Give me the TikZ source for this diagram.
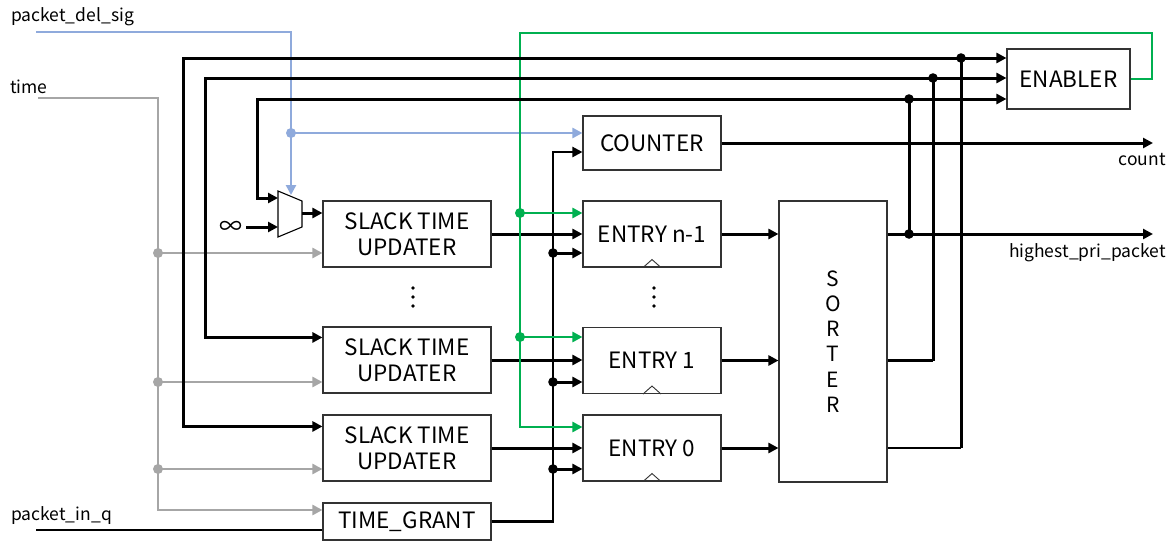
\documentclass[tikz,border=0pt]{standalone}
\usepackage{fontspec}
\setmainfont{Noto Sans CJK JP}
\usetikzlibrary{arrows.meta,calc}
\definecolor{delblue}{HTML}{8FAADC}
\definecolor{timegray}{HTML}{A6A6A6}
\definecolor{engreen}{HTML}{00B050}
\tikzset{
  blk/.style={line width=3pt, black},
  thn/.style={line width=2.2pt, black},
  bsig/.style={line width=2.6pt, delblue},
  gsig/.style={line width=2.6pt, timegray},
  esig/.style={line width=2.6pt, engreen},
  tip/.style={-{Triangle[length=10pt,width=10pt]}},
  box/.style={draw=black!80, line width=1.1pt, fill=white, align=center,
    font=\fontsize{22.5}{26.5}\selectfont, inner sep=0pt},
  lbl/.style={font=\fontsize{17.5}{19}\selectfont, inner sep=0pt},
}
\begin{document}
\begin{tikzpicture}[x=1pt,y=-1pt]
\useasboundingbox (0,0) rectangle (1174,541);

% ---------- blocks ----------
\node[box, minimum width=168pt, minimum height=66pt] (s2) at (407,234) {SLACK TIME\\UPDATER};
\node[box, minimum width=168pt, minimum height=66pt] (s1) at (407,360) {SLACK TIME\\UPDATER};
\node[box, minimum width=168pt, minimum height=66pt] (s0) at (407,448) {SLACK TIME\\UPDATER};
\node[box, minimum width=168pt, minimum height=37pt] (tg) at (407,521.5) {TIME\_GRANT};
\node[box, minimum width=138pt, minimum height=54pt] (ctr) at (652,143) {COUNTER};
\node[box, minimum width=138pt, minimum height=66pt] (e2) at (652,234) {ENTRY n-1};
\node[box, minimum width=138pt, minimum height=66pt] (e1) at (652,360.5) {ENTRY 1};
\node[box, minimum width=138pt, minimum height=66pt] (e0) at (652,448) {ENTRY 0};
\node[box, minimum width=108pt, minimum height=281pt, font=\fontsize{21}{25.2}\selectfont] (srt) at (833,341.5) {S\\O\\R\\T\\E\\R};
\node[box, minimum width=123pt, minimum height=60pt] (en) at (1068.5,79) {ENABLER};

% clock marks on the entries
\foreach \e in {e2,e1,e0}
  \draw[line width=0.9pt, black!80] ($(\e.south)+(-9,0)$) -- ($(\e.south)+(0,-8)$) -- ($(\e.south)+(9,0)$);

% vertical ellipses
\foreach \x in {413,654}
  \foreach \y in {288,297,306}
    \fill (\x,\y) circle (1.9);

% ---------- multiplexer ----------
\draw[line width=1.1pt, fill=white] (278,191) -- (302,201) -- (302,227) -- (278,237) -- cycle;
\coordinate (mxin1) at (278,198);
\coordinate (mxin2) at (278,227);
\coordinate (mxout) at (302,213);
\coordinate (mxsel) at (291,195);
\node[font=\fontsize{23}{23}\selectfont, inner sep=0pt] (inf) at (231,228) {∞};
\coordinate (infout) at (246,227);
\draw[blk,tip] (infout) -- (mxin2);
\draw[blk,tip] (mxout) -- (mxout -| s2.west);

% ---------- input labels ----------
\node[lbl, anchor=west] (ldel) at (11,17) {packet\_del\_sig};
\node[lbl, anchor=west] (ltime) at (10,87) {time};
\node[lbl, anchor=west] (lin) at (11,516) {packet\_in\_q};
\coordinate (pdel) at (36,32);
\coordinate (ptime) at (38,98);
\coordinate (pin) at (36,530);

% packet_del_sig
\coordinate (jb) at (291,133);
\draw[bsig,tip] (pdel) -| (mxsel);
\draw[bsig,tip] (jb) -- (jb -| ctr.west);
\fill[delblue] (jb) circle (5);

% time
\coordinate (tcorner) at (158,510);
\draw[gsig,tip] (ptime) -| (tcorner) -- (tcorner -| tg.west);
\foreach \n/\y in {s2/253, s1/382, s0/469} {
  \coordinate (jt) at (158,\y);
  \draw[gsig,tip] (jt) -- (jt -| \n.west);
  \fill[timegray] (jt) circle (5);
}

% packet_in_q
\draw[thn] (pin) -- (pin -| tg.west);

% ---------- time grant bus ----------
\coordinate (cbtop) at (553,152);
\draw[thn,tip] (tg.east) -| (cbtop) -- (cbtop -| ctr.west);
\foreach \n/\y in {e2/253, e1/382, e0/469} {
  \coordinate (jc) at (553,\y);
  \draw[blk,tip] (jc) -- (jc -| \n.west);
  \fill (jc) circle (4.8);
}

% ---------- updaters to entries ----------
\draw[blk,tip] (s2.east) -- (s2.east -| e2.west);
\draw[blk,tip] (s1.east) -- (s1.east -| e1.west);
\draw[blk,tip] (s0.east) -- (s0.east -| e0.west);

% ---------- entries to sorter ----------
\draw[blk,tip] (e2.east) -- (e2.east -| srt.west);
\draw[blk,tip] (e1.east) -- (e1.east -| srt.west);
\draw[blk,tip] (e0.east) -- (e0.east -| srt.west);

% ---------- enabler feedback ----------
\coordinate (g2) at (520,213);
\coordinate (g1) at (520,337);
\coordinate (g0) at (520,427);
\draw[esig,tip] (en.east) -| (1152,33) -| (g0) -- (g0 -| e0.west);
\draw[esig,tip] (g2) -- (g2 -| e2.west);
\draw[esig,tip] (g1) -- (g1 -| e1.west);
\fill[engreen] (g2) circle (5);
\fill[engreen] (g1) circle (5);

% ---------- sorter outputs and loops ----------
\coordinate (j0) at (961,58);
\coordinate (j1) at (933,78);
\coordinate (j2) at (909,99);
\coordinate (jh) at (909,234);
\coordinate (hout) at (1153,234);
\coordinate (cout) at (1153,143);

\draw[blk,tip] (srt.east |- e2.east) -- (hout);
\draw[blk] (jh) -- (j2);
\draw[blk,tip] (j2) -- (j2 -| en.west);
\draw[blk,tip] (j2) -- (257,99) |- (mxin1);

\draw[thn] (srt.east |- e1.east) -- (j1 |- e1.east);
\draw[blk] (j1 |- e1.east) -- (j1);
\draw[blk,tip] (j1) -- (j1 -| en.west);
\draw[blk,tip] (j1) -- (205,78) |- ($(s1.north west)+(0,11)$);

\draw[thn] (srt.east |- e0.east) -- (j0 |- e0.east);
\draw[blk] (j0 |- e0.east) -- (j0);
\draw[blk,tip] (j0) -- (j0 -| en.west);
\draw[blk,tip] (j0) -- (183,58) |- ($(s0.north west)+(0,12)$);

\foreach \j in {j0,j1,j2,jh} \fill (\j) circle (4.8);

% counter output
\draw[blk,tip] (ctr.east) -- (cout);

% ---------- output labels ----------
\node[lbl, anchor=east] (lcount) at (1166,160) {count};
\node[lbl, anchor=east] (lhigh) at (1166,253) {highest\_pri\_packet};
\end{tikzpicture}
\end{document}
